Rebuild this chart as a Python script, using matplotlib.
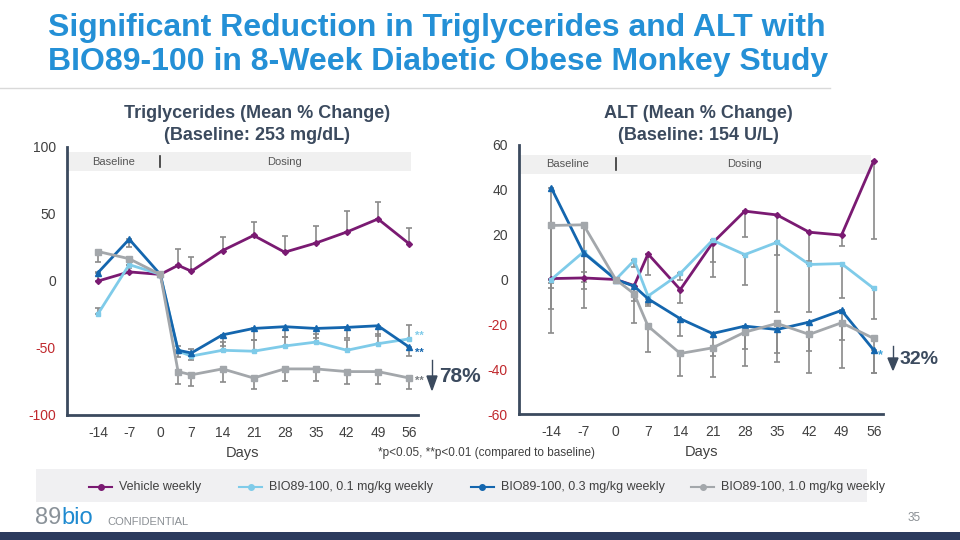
import matplotlib.pyplot as plt
from matplotlib.patches import Rectangle
from matplotlib.lines import Line2D
from matplotlib.text import Annotation

plt.rcParams['font.family'] = ['Liberation Sans', 'DejaVu Sans']
plt.rcParams['axes.unicode_minus'] = False

# days of measurement
days = [-14, -7, 0, 4, 7, 14, 21, 28, 35, 42, 49, 56]
xticks = [-14, -7, 0, 7, 14, 21, 28, 35, 42, 49, 56]

# triglycerides, mean % change
tg_vehicle = [0, 6.8, 4.9, 11.7, 7.3, 22.7, 34, 21.5, 28.3, 36.6, 46.3, 27.8]
tg_01 = [-24.4, 12.2, 5, -52.4, -56, -51.7, -52.4, -48.5, -45.6, -51.7, -46.8, -43.2]
tg_03 = [6.3, 31.2, 4.9, -51.7, -53.7, -40.2, -35.4, -34.1, -35.4, -34.6, -33.4, -49.3]
tg_10 = [22, 16.6, 4.9, -67.6, -70, -65.6, -72.4, -65.6, -65.6, -67.6, -67.6, -72.4]
# error bars (one side)
tg_vehicle_err = [6.5, 3, 2, 12.5, 10.5, 10, 10, 12, 13, 16, 13, 12]
tg_01_err = [4, 6, 2, 4, 5, 6, 8, 7, 6, 8, 7, 10]
tg_03_err = [6, 6, 2, 5, 5, 8, 9, 8, 7, 8, 8, 7]
tg_10_err = [8, 5, 2, 9, 8.5, 9.5, 8, 9, 9, 9, 9, 8.5]

# ALT, mean % change
alt_vehicle = [0.4, 0.7, 0, -2.7, 11.4, -4.5, 16.3, 30.5, 28.8, 21.1, 19.8, 53]
alt_01 = [0, 12.3, 0, 8.5, -7.4, 2.7, 17.5, 11.1, 16.6, 6.7, 7.1, -4]
alt_03 = [40.9, 11.9, 0, -3, -8.6, -17.5, -24.1, -20.8, -22.3, -19, -13.8, -31.5]
alt_10 = [24.1, 24.4, 0, -6.4, -20.8, -33, -30.5, -23.5, -19.6, -24.5, -19.3, -26.3]
alt_vehicle_err = [2, 2, 0, 3, 9.6, 6, 8.6, 11.5, 17.8, 13, 5, 35]
alt_01_err = [4, 9, 0, 3, 3.6, 3, 16.5, 13.6, 31, 21, 15.3, 13.5]
alt_03_err = [54, 16, 0, 6.4, 3, 7.5, 10, 10.4, 10.7, 13, 13.4, 10]
alt_10_err = [48, 37, 0, 13, 11.6, 10, 13, 15, 17, 17, 20, 15.5]

labels = ['Vehicle weekly', 'BIO89-100, 0.1 mg/kg weekly',
          'BIO89-100, 0.3 mg/kg weekly', 'BIO89-100, 1.0 mg/kg weekly']
colors = ['#7a1a72', '#7fcbe9', '#1466ae', '#a3a7ab']
markers = ['D', 's', '^', 's']
msizes = [3, 3.5, 4, 4]

W, H = 960, 540
fig = plt.figure(figsize=(9.6, 5.4), dpi=100)


def fx(px):
    return px / W


def fy(py):
    return 1 - py / H


dark = '#3b4a5e'
tickc = '#404040'
red = '#c0282d'

# title
fig.text(fx(48), fy(28), 'Significant Reduction in Triglycerides and ALT with',
         fontsize=23, fontweight='bold', color='#2490d6', va='center')
fig.text(fx(48), fy(62), 'BIO89-100 in 8-Week Diabetic Obese Monkey Study',
         fontsize=23, fontweight='bold', color='#2490d6', va='center')
fig.add_artist(Line2D([0, fx(830)], [fy(88), fy(88)], color='#d9d9d9', lw=1))


def draw_panel(ax, series, errs, lower_only, ylim, yticks, band, title_lines, cx):
    for i, (vals, err) in enumerate(zip(series, errs)):
        if lower_only[i]:
            yerr = [err, [0] * len(err)]
        else:
            yerr = [[0] * len(err), err]
        ax.errorbar(days, vals, yerr=yerr, fmt='none', ecolor='#8a8a8a',
                    elinewidth=1.2, capsize=2.5, capthick=1.2, zorder=2)
    for i, vals in enumerate(series):
        ax.plot(days, vals, color=colors[i], lw=2, marker=markers[i],
                ms=msizes[i], zorder=3)
    ax.set_xlim(-21, 58)
    ax.set_ylim(*ylim)
    ax.set_xticks(xticks)
    ax.set_yticks(yticks)
    ax.tick_params(length=0, labelsize=10, colors=tickc, pad=8)
    for lab, v in zip(ax.get_yticklabels(), yticks):
        lab.set_color(red if v < 0 else tickc)
    for s in ['top', 'right']:
        ax.spines[s].set_visible(False)
    for s in ['left', 'bottom']:
        ax.spines[s].set_color(dark)
        ax.spines[s].set_linewidth(2)
    # baseline / dosing band
    ax.add_patch(Rectangle((-21, band[0]), band[2] + 21, band[1] - band[0],
                           facecolor='#f0f0f0', edgecolor='none', zorder=0))
    ym = (band[0] + band[1]) / 2
    ax.text(-10.5, ym, 'Baseline', fontsize=8, color='#555555', ha='center', va='center')
    ax.text(28, ym, 'Dosing', fontsize=8, color='#555555', ha='center', va='center')
    ax.plot([0, 0], [ym - (band[1] - band[0]) * 0.3, ym + (band[1] - band[0]) * 0.3],
            color='#333333', lw=1.2)
    ax.set_xlabel('Days', fontsize=10.5, color=tickc, labelpad=4)
    fig.text(fx(cx), fy(113), title_lines[0], fontsize=13, fontweight='bold',
             color=dark, ha='center', va='center')
    fig.text(fx(cx), fy(135), title_lines[1], fontsize=13, fontweight='bold',
             color=dark, ha='center', va='center')


ax1 = fig.add_axes([fx(67), fy(415), fx(418 - 67), fy(147) - fy(415)])
draw_panel(ax1, [tg_vehicle, tg_01, tg_03, tg_10],
           [tg_vehicle_err, tg_01_err, tg_03_err, tg_10_err],
           [False, False, True, True], (-100, 100), [-100, -50, 0, 50, 100],
           (82, 96, 56.4), ('Triglycerides (Mean % Change)', '(Baseline: 253 mg/dL)'), 257)

ax2 = fig.add_axes([fx(519), fy(414), fx(883 - 519), fy(145) - fy(414)])
draw_panel(ax2, [alt_vehicle, alt_01, alt_03, alt_10],
           [alt_vehicle_err, alt_01_err, alt_03_err, alt_10_err],
           [True, True, True, True], (-60, 60), [-60, -40, -20, 0, 20, 40, 60],
           (47.2, 55.7, 55.3), ('ALT (Mean % Change)', '(Baseline: 154 U/L)'), 698)

# significance marks
ax1.annotate('**', (56, tg_01[-1]), xytext=(4, 2), textcoords='offset points',
             color=colors[1], fontsize=8, fontweight='bold', va='center', annotation_clip=False)
ax1.annotate('**', (56, tg_03[-1]), xytext=(4, -4), textcoords='offset points',
             color=colors[2], fontsize=8, fontweight='bold', va='center', annotation_clip=False)
ax1.annotate('**', (56, tg_10[-1]), xytext=(4, -2), textcoords='offset points',
             color='#7a7e82', fontsize=8, fontweight='bold', va='center', annotation_clip=False)
ax2.annotate('*', (56, alt_03[-1]), xytext=(3, -4), textcoords='offset points',
             color='#3aa0d8', fontsize=9, fontweight='bold', va='center', annotation_clip=False)

# reduction arrows
fig.add_artist(Line2D([fx(432), fx(432)], [fy(360), fy(378)], color=dark, lw=1))
fig.patches.append(plt.Polygon([[fx(427), fy(376)], [fx(437), fy(376)], [fx(432), fy(390)]],
                               closed=True, color=dark, transform=fig.transFigure, figure=fig))
fig.text(fx(439), fy(376), '78%', fontsize=15, fontweight='bold', color=dark, va='center')
fig.add_artist(Line2D([fx(893), fx(893)], [fy(346), fy(360)], color=dark, lw=1))
fig.patches.append(plt.Polygon([[fx(888), fy(358)], [fx(898), fy(358)], [fx(893), fy(370)]],
                               closed=True, color=dark, transform=fig.transFigure, figure=fig))
fig.text(fx(900), fy(360), '32%', fontsize=14, fontweight='bold', color=dark, va='center')

fig.text(fx(487), fy(453), '*p<0.05, **p<0.01 (compared to baseline)', fontsize=8.5,
         color=tickc, ha='center', va='center')

# legend band
fig.patches.append(Rectangle((fx(36), fy(502)), fx(867 - 36), fy(469) - fy(502),
                             facecolor='#f0f0f2', edgecolor='none', transform=fig.transFigure,
                             figure=fig))
leg_x = [89, 239, 471, 691]
for i in range(4):
    fig.add_artist(Line2D([fx(leg_x[i]), fx(leg_x[i] + 23)], [fy(487), fy(487)],
                          color=colors[i], lw=1.5, transform=fig.transFigure))
    fig.add_artist(Line2D([fx(leg_x[i] + 11.5)], [fy(487)], color=colors[i], marker='o',
                          ms=4, transform=fig.transFigure))
    fig.text(fx(leg_x[i] + 30), fy(487), labels[i], fontsize=9, color='#404040', va='center')

# footer
t89 = fig.text(fx(35), fy(518), '89', fontsize=17, color='#8a9299', va='center')
fig.add_artist(Annotation('bio', xy=(1, 0.5), xycoords=t89, va='center',
                          fontsize=17, color='#1e8ad0'))
fig.text(fx(107), fy(522), 'CONFIDENTIAL', fontsize=8, color='#8a8f94', va='center')
fig.text(fx(908), fy(518), '35', fontsize=8.5, color='#8a8f94', va='center')
fig.patches.append(Rectangle((0, 0), 1, fy(532), facecolor='#2c3b5e', edgecolor='none',
                             transform=fig.transFigure, figure=fig))

fig.savefig('out.png', dpi=100)
